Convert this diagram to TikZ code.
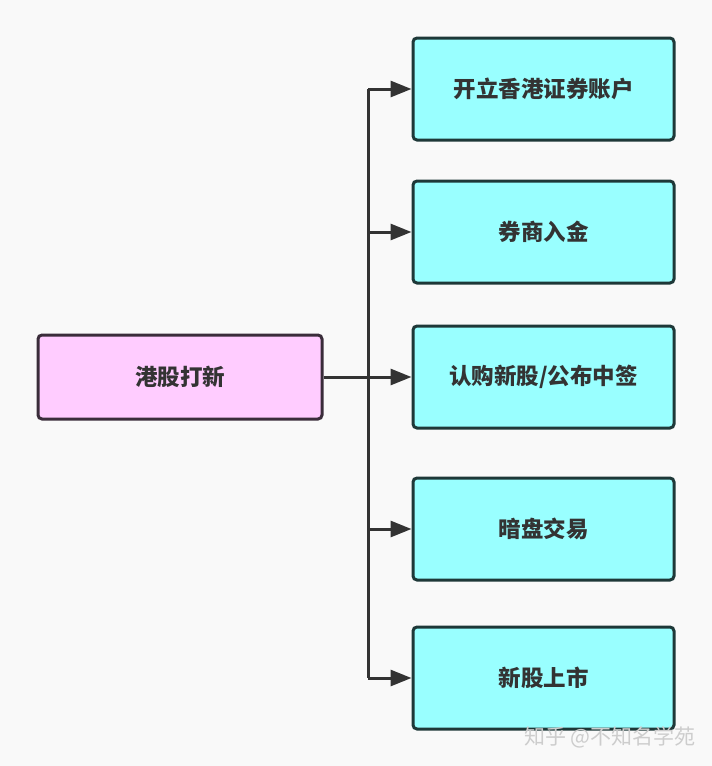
\documentclass[tikz,border=0pt]{standalone}
\usepackage{fontspec}
\setmainfont{Noto Sans CJK SC}
\usetikzlibrary{arrows.meta, positioning}
\definecolor{bg_gray}{RGB}{249, 249, 249}
\definecolor{pink_fill}{RGB}{255, 204, 255}
\definecolor{pink_line}{RGB}{58, 44, 58}
\definecolor{cyan_fill}{RGB}{153, 255, 255}
\definecolor{cyan_line}{RGB}{30, 56, 56}
\definecolor{ink}{RGB}{51, 51, 51}
\definecolor{mark_gray}{RGB}{205, 205, 205}

\begin{document}
\begin{tikzpicture}[
    x=1pt, y=-1pt,
    % Node styles
    topic/.style={
        rectangle,
        draw=pink_line,
        fill=pink_fill,
        text=ink,
        line width=3pt,
        rounded corners=4pt,
        minimum width=284pt,
        minimum height=84pt,
        align=center,
        font=\fontsize{22.5}{26}\selectfont\bfseries
    },
    stepbox/.style={
        rectangle,
        draw=cyan_line,
        fill=cyan_fill,
        text=ink,
        line width=3pt,
        rounded corners=4pt,
        minimum width=261pt,
        minimum height=102pt,
        align=center,
        font=\fontsize{22.5}{26}\selectfont\bfseries
    },
    link/.style={
        line width=3pt,
        draw=ink
    },
    arrow/.style={
        link,
        -{Triangle[length=21pt, width=16pt]}
    }
]

% background
\fill[bg_gray] (0,0) rectangle (712,766);
\useasboundingbox (0,0) rectangle (712,766);

% Position nodes
\node[topic] (hk) at (180,377) {港股打新};
\node[stepbox] (open) at (543.5,89) {开立香港证券账户};
\node[stepbox] (fund) at (543.5,232) {券商入金};
\node[stepbox] (sub) at (543.5,377) {认购新股/公布中签};
\node[stepbox] (dark) at (543.5,529) {暗盘交易};
\node[stepbox] (list) at (543.5,678) {新股上市};

% trunk points
\coordinate (t1) at (368,89);
\coordinate (t2) at (368,232);
\coordinate (t4) at (368,529);
\coordinate (t5) at (368,678);

\draw[link] (t1) -- (t5);
\draw[arrow] (hk.east) -- (sub.west);
\draw[arrow] (t1) -- (open.west);
\draw[arrow] (t2) -- (fund.west);
\draw[arrow] (t4) -- (dark.west);
\draw[arrow] (t5) -- (list.west);

% watermark
\node[text=mark_gray, font=\fontsize{21}{24}\selectfont] (mark) at (610,737) {知乎 @不知名学苑};

\end{tikzpicture}
\end{document}
